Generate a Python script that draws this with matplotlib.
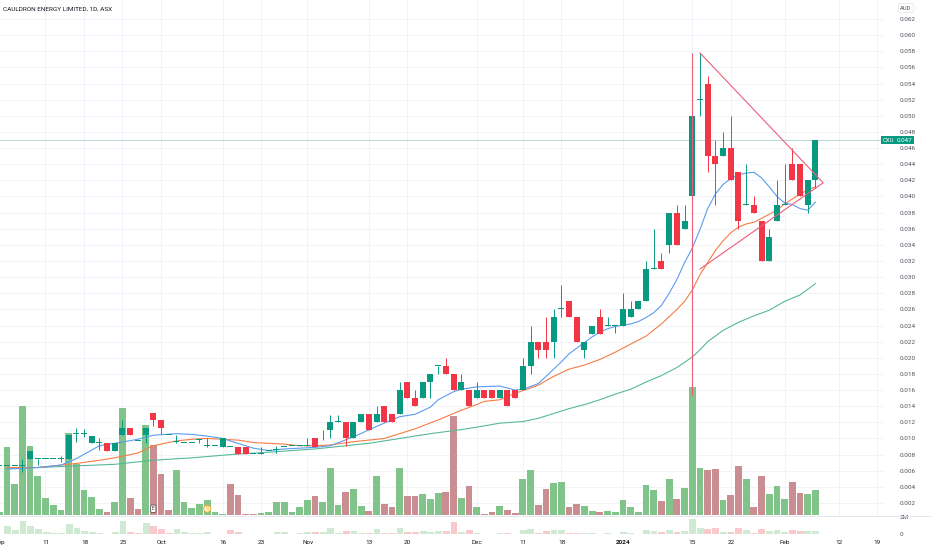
import numpy as np
import matplotlib.pyplot as plt
from matplotlib.transforms import blended_transform_factory

plt.rcParams['font.family'] = ['Roboto', 'DejaVu Sans']

# ---------------------------------------------------------------------------
# daily bars, Sep 2023 -> 7 Feb 2024 (bar index = trading day position)
# ---------------------------------------------------------------------------
opens = [
    0.0066, 0.0066, 0.0066, 0.0066, 0.0075, 0.0075, 0.0075, 0.0075, 0.0075, 0.0075,
    0.0105, 0.0105, 0.0095, 0.0094, 0.0095, 0.0085, 0.0104, 0.0113, 0.0097, 0.0104,
    0.0132, 0.0123, 0.0104, 0.0096, 0.0095, 0.0095, 0.0098, 0.0091, 0.0091, 0.0090,
    0.0090, 0.0090, 0.0090, 0.0081, 0.0081, 0.0085, 0.0086, 0.0090, 0.0091, 0.0091,
    0.0091, 0.0100, 0.0100, 0.0110, 0.0120, 0.0120, 0.0100, 0.0120, 0.0130, 0.0120,
    0.0140, 0.0130, 0.0130, 0.0170, 0.0150, 0.0150, 0.0170, 0.0190, 0.0190, 0.0180,
    0.0160, 0.0160, 0.0150, 0.0160, 0.0160, 0.0150, 0.0160, 0.0160, 0.0160, 0.0190,
    0.0220, 0.0220, 0.0220, 0.0260, 0.0270, 0.0250, 0.0210, 0.0230, 0.0250, 0.0240,
    0.0240, 0.0240, 0.0250, 0.0260, 0.0270, 0.0310, 0.0320, 0.0340, 0.0380, 0.0360,
    0.0400, 0.0520, 0.0540, 0.0450, 0.0450, 0.0460, 0.0430, 0.0390, 0.0390, 0.0370,
    0.0320, 0.0370, 0.0390, 0.0440, 0.0440, 0.0390, 0.0420]
highs = [
    0.0066, 0.0066, 0.0066, 0.0075, 0.0085, 0.0075, 0.0075, 0.0075, 0.0078, 0.0104,
    0.0113, 0.0112, 0.0103, 0.0100, 0.0095, 0.0095, 0.0123, 0.0113, 0.0097, 0.0113,
    0.0132, 0.0123, 0.0104, 0.0104, 0.0095, 0.0095, 0.0101, 0.0100, 0.0091, 0.0100,
    0.0090, 0.0090, 0.0090, 0.0081, 0.0090, 0.0085, 0.0091, 0.0090, 0.0091, 0.0091,
    0.0100, 0.0100, 0.0110, 0.0129, 0.0129, 0.0120, 0.0120, 0.0130, 0.0130, 0.0140,
    0.0140, 0.0130, 0.0170, 0.0170, 0.0160, 0.0170, 0.0180, 0.0190, 0.0200, 0.0180,
    0.0180, 0.0160, 0.0170, 0.0160, 0.0160, 0.0160, 0.0160, 0.0160, 0.0200, 0.0240,
    0.0220, 0.0250, 0.0260, 0.0290, 0.0270, 0.0250, 0.0220, 0.0240, 0.0260, 0.0250,
    0.0240, 0.0280, 0.0270, 0.0270, 0.0320, 0.0360, 0.0330, 0.0380, 0.0390, 0.0390,
    0.0578, 0.0578, 0.0550, 0.0470, 0.0480, 0.0500, 0.0430, 0.0440, 0.0400, 0.0370,
    0.0360, 0.0420, 0.0440, 0.0460, 0.0440, 0.0420, 0.0470]
lows = [
    0.0066, 0.0066, 0.0066, 0.0059, 0.0075, 0.0067, 0.0075, 0.0075, 0.0071, 0.0075,
    0.0096, 0.0102, 0.0095, 0.0086, 0.0085, 0.0085, 0.0104, 0.0104, 0.0097, 0.0094,
    0.0115, 0.0105, 0.0104, 0.0094, 0.0095, 0.0095, 0.0095, 0.0090, 0.0091, 0.0090,
    0.0090, 0.0081, 0.0081, 0.0081, 0.0081, 0.0085, 0.0082, 0.0090, 0.0091, 0.0091,
    0.0091, 0.0090, 0.0098, 0.0100, 0.0120, 0.0091, 0.0100, 0.0120, 0.0110, 0.0120,
    0.0120, 0.0120, 0.0130, 0.0150, 0.0140, 0.0150, 0.0150, 0.0180, 0.0180, 0.0160,
    0.0160, 0.0140, 0.0150, 0.0150, 0.0150, 0.0150, 0.0140, 0.0150, 0.0160, 0.0180,
    0.0200, 0.0200, 0.0200, 0.0250, 0.0250, 0.0220, 0.0200, 0.0230, 0.0230, 0.0240,
    0.0231, 0.0240, 0.0250, 0.0260, 0.0270, 0.0310, 0.0310, 0.0330, 0.0340, 0.0360,
    0.0400, 0.0500, 0.0430, 0.0390, 0.0450, 0.0420, 0.0360, 0.0390, 0.0380, 0.0320,
    0.0320, 0.0370, 0.0390, 0.0420, 0.0400, 0.0380, 0.0410]
closes = [
    0.0066, 0.0066, 0.0066, 0.0066, 0.0085, 0.0075, 0.0075, 0.0075, 0.0075, 0.0104,
    0.0105, 0.0105, 0.0103, 0.0094, 0.0085, 0.0095, 0.0113, 0.0104, 0.0097, 0.0113,
    0.0123, 0.0113, 0.0104, 0.0096, 0.0095, 0.0095, 0.0098, 0.0091, 0.0091, 0.0100,
    0.0090, 0.0081, 0.0081, 0.0081, 0.0081, 0.0085, 0.0086, 0.0090, 0.0091, 0.0091,
    0.0091, 0.0090, 0.0100, 0.0120, 0.0120, 0.0100, 0.0120, 0.0130, 0.0110, 0.0130,
    0.0120, 0.0120, 0.0160, 0.0150, 0.0140, 0.0170, 0.0180, 0.0190, 0.0180, 0.0160,
    0.0170, 0.0140, 0.0160, 0.0150, 0.0150, 0.0160, 0.0140, 0.0150, 0.0190, 0.0220,
    0.0210, 0.0210, 0.0250, 0.0260, 0.0250, 0.0220, 0.0220, 0.0240, 0.0230, 0.0240,
    0.0240, 0.0260, 0.0260, 0.0270, 0.0310, 0.0310, 0.0310, 0.0380, 0.0340, 0.0370,
    0.0500, 0.0520, 0.0450, 0.0440, 0.0460, 0.0420, 0.0370, 0.0390, 0.0380, 0.0320,
    0.0350, 0.0390, 0.0390, 0.0420, 0.0400, 0.0420, 0.0470]

# volume in millions of shares, and whether the volume bar is "up" (green)
volumes = [
    0.05, 0.97, 0.45, 1.56, 0.99, 0.56, 0.25, 0.14, 0.07, 1.18,
    0.73, 0.36, 0.26, 0.09, 0.04, 0.18, 1.53, 0.24, 0.09, 1.29,
    1.00, 0.59, 0.07, 0.64, 0.19, 0.10, 0.16, 0.21, 0.04, 0.02,
    0.44, 0.29, 0.02, 0.02, 0.03, 0.04, 0.18, 0.19, 0.05, 0.11,
    0.22, 0.27, 0.18, 0.68, 0.15, 0.33, 0.37, 0.13, 0.06, 0.56,
    0.16, 0.12, 0.67, 0.27, 0.27, 0.30, 0.23, 0.31, 0.33, 1.42,
    0.24, 0.42, 0.12, 0.02, 0.04, 0.13, 0.07, 0.03, 0.51, 0.64,
    0.14, 0.37, 0.46, 0.48, 0.12, 0.16, 0.13, 0.06, 0.04, 0.06,
    0.05, 0.22, 0.12, 0.05, 0.43, 0.36, 0.20, 0.52, 0.23, 0.39,
    1.84, 0.68, 0.65, 0.66, 0.22, 0.28, 0.70, 0.51, 0.12, 0.56,
    0.30, 0.42, 0.23, 0.48, 0.32, 0.30, 0.36]
vol_up = [
    1, 1, 1, 1, 1, 1, 1, 1, 1, 1,
    1, 1, 1, 1, 0, 1, 1, 0, 0, 1,
    0, 0, 0, 1, 1, 1, 1, 1, 1, 1,
    0, 0, 0, 0, 1, 1, 1, 1, 1, 1,
    1, 0, 1, 1, 1, 0, 1, 1, 0, 1,
    0, 0, 1, 0, 0, 1, 1, 1, 0, 0,
    1, 0, 1, 0, 0, 1, 0, 0, 1, 1,
    0, 0, 1, 1, 0, 0, 1, 1, 0, 1,
    1, 1, 1, 1, 1, 1, 0, 1, 0, 1,
    1, 1, 0, 0, 1, 0, 0, 1, 0, 0,
    1, 1, 1, 0, 0, 1, 1]

# moving averages (bar index, value)
ma_fast_x = [1, 5, 8, 10, 13, 15, 18, 20, 23, 25, 27, 29, 31, 33, 35, 37, 39, 41, 43, 46,
             49, 52, 54, 56, 57, 59, 60, 62, 65, 67, 68, 70, 71, 72, 73, 74, 75, 76, 77, 78,
             79, 80, 82, 83, 84, 85, 86, 87, 88, 89, 90, 91, 92, 93, 94, 95, 96, 97, 98, 99,
             100, 101, 102, 103, 104, 105, 106]
ma_fast_y = [0.0062, 0.0064, 0.0067, 0.0075, 0.0091, 0.0094, 0.0099, 0.0104, 0.0106, 0.0105,
             0.0103, 0.0100, 0.0094, 0.0088, 0.0085, 0.0087, 0.0088, 0.0089, 0.0091, 0.0102,
             0.0115, 0.0127, 0.0130, 0.0139, 0.0148, 0.0158, 0.0161, 0.0164, 0.0165, 0.0160,
             0.0161, 0.0168, 0.0177, 0.0186, 0.0195, 0.0205, 0.0212, 0.0219, 0.0226, 0.0232,
             0.0236, 0.0239, 0.0242, 0.0245, 0.0250, 0.0256, 0.0265, 0.0280, 0.0297, 0.0318,
             0.0336, 0.0359, 0.0385, 0.0403, 0.0415, 0.0422, 0.0427, 0.0429, 0.0430, 0.0423,
             0.0412, 0.0400, 0.0392, 0.0390, 0.0385, 0.0383, 0.0393]
ma_mid_x = [1, 5, 8, 10, 13, 15, 18, 20, 23, 25, 27, 29, 31, 33, 35, 37, 39, 41, 43, 46,
            50, 52, 54, 57, 60, 62, 63, 65, 67, 70, 72, 74, 76, 78, 80, 82, 84, 86, 88, 89,
            90, 91, 92, 93, 94, 95, 96, 97, 98, 99, 100, 101, 102, 103, 104, 105, 106]
ma_mid_y = [0.0064, 0.0064, 0.0067, 0.0069, 0.0073, 0.0076, 0.0082, 0.0091, 0.0097, 0.0099,
            0.0100, 0.0099, 0.0098, 0.0095, 0.0094, 0.0093, 0.0091, 0.0091, 0.0092, 0.0096,
            0.0100, 0.0106, 0.0112, 0.0123, 0.0135, 0.0142, 0.0146, 0.0148, 0.0156, 0.0166,
            0.0177, 0.0186, 0.0191, 0.0198, 0.0207, 0.0217, 0.0227, 0.0242, 0.0260, 0.0270,
            0.0284, 0.0303, 0.0318, 0.0333, 0.0345, 0.0355, 0.0362, 0.0366, 0.0368, 0.0373,
            0.0378, 0.0383, 0.0391, 0.0397, 0.0403, 0.0408, 0.0412]
ma_slow_x = [1, 5, 10, 15, 20, 25, 30, 35, 41, 43, 48, 52, 56, 60, 62, 65, 68, 70, 72, 74,
             76, 78, 80, 82, 84, 86, 88, 90, 91, 92, 94, 96, 98, 100, 102, 104, 106]
ma_slow_y = [0.0063, 0.0064, 0.0066, 0.0068, 0.0073, 0.0076, 0.0080, 0.0083, 0.0087, 0.0089,
             0.0094, 0.0100, 0.0106, 0.0111, 0.0114, 0.0119, 0.0121, 0.0125, 0.0131, 0.0137,
             0.0142, 0.0148, 0.0155, 0.0161, 0.0170, 0.0178, 0.0188, 0.0201, 0.0210, 0.0220,
             0.0234, 0.0244, 0.0252, 0.0259, 0.0270, 0.0278, 0.0292]

# drawings: triangle from the Jan-15 spike + vertical marker
tri_upper = ([91, 106.9], [0.0578, 0.0418])
tri_lower = ([91, 107.0], [0.0310, 0.0417])
vline_bar, vline_lo, vline_hi = 90, 0.0154, 0.0578
last_price = 0.047

# x axis labels (bar index of the first trading day shown)
tick_pos = [0, 6, 11, 16, 21, 29, 34, 40, 48, 53, 62, 68, 73, 81, 90, 95, 102, 109, 114]
tick_lab = ['Sep', '11', '18', '25', 'Oct', '16', '23', 'Nov', '13', '20', 'Dec',
            '11', '18', '2024', '15', '22', 'Feb', '12', '19']
price_ticks = np.round(np.arange(0.002, 0.0621, 0.002), 3)

UP, DN = '#089981', '#f23645'
VUP, VDN = '#80c48a', '#c98d92'
SUP, SDN = '#cfe9d3', '#f8c9cd'
TXT = '#50535e'

x = np.arange(len(opens))
o, h, l, c = map(np.array, (opens, highs, lows, closes))
up = c >= o
vol = np.array(volumes)
vup = np.array(vol_up, dtype=bool)

W, H = 932, 550
fig = plt.figure(figsize=(W / 100, H / 100), dpi=100)
rect = [0, 1 - 516 / H, 884 / W, 516 / H]
axv = fig.add_axes(rect)   # volume overlay + grid (bottom layer)
ax = fig.add_axes(rect)    # price layer
axs = fig.add_axes([0, 14 / H, 884 / W, 20 / H])  # small volume pane

xlim = (0.0909, 114.9)
for a in (ax, axv, axs):
    a.set_xlim(*xlim)
    for s in a.spines.values():
        s.set_visible(False)
ax.patch.set_visible(False)
ax.set_ylim(0.00039, 0.06436)
axv.set_ylim(-0.0143, 7.389)
axs.set_ylim(-0.24, 2.156)

# grid (price levels drawn in the volume layer so they sit behind the bars)
grid_tr = blended_transform_factory(axv.transAxes, ax.transData)
for p in price_ticks:
    axv.plot([0, 1], [p, p], color='#f0f3fa', lw=0.7, zorder=0, transform=grid_tr)
for t in tick_pos:
    axv.axvline(t, color='#f0f3fa', lw=0.7, zorder=0)

# volume
axv.bar(x, vol, width=0.88, color=np.where(vup, VUP, VDN), zorder=2)
axs.bar(x, vol, width=0.88, color=np.where(vup, SUP, SDN))

# candles
ax.vlines(x, l, h, colors=np.where(up, UP, DN), lw=0.7, zorder=3)
body = np.maximum(np.abs(c - o), 0.00012)
ax.bar(x, body, bottom=np.minimum(o, c), width=0.78,
       color=np.where(up, UP, DN), zorder=4)

# moving averages
ax.plot(ma_slow_x, ma_slow_y, color='#57b99a', lw=0.8, zorder=2)
ax.plot(ma_mid_x, ma_mid_y, color='#f57d45', lw=0.8, zorder=2)
ax.plot(ma_fast_x, ma_fast_y, color='#5b9cf0', lw=0.8, zorder=2)

# drawings
ax.plot(*tri_upper, color='#ee5d78', lw=0.8, zorder=5)
ax.plot(*tri_lower, color='#ee5d78', lw=0.8, zorder=5)
ax.vlines(vline_bar, vline_lo, vline_hi, colors='#ee5d78', lw=0.8, zorder=5)
ax.axhline(last_price, color='#a9d3cc', lw=0.6, zorder=1)

# event badges
axv.text(20, 0.09, 'E', fontsize=3.6, ha='center', va='center', color='#333',
         zorder=6, bbox=dict(boxstyle='round,pad=0.25', fc='white', ec='#555', lw=0.6))
axv.text(27, 0.09, 'S', fontsize=3.6, ha='center', va='center', color='#f0a020',
         zorder=6, bbox=dict(boxstyle='circle,pad=0.2', fc='#fff7e0', ec='#f5a623', lw=0.7))

# price axis (right)
ax.yaxis.tick_right()
ax.set_yticks(price_ticks)
ax.set_yticklabels([f'{p:.3f}' for p in price_ticks])
ax.tick_params(axis='y', length=0, pad=11, labelsize=4.6, labelcolor=TXT)
ax.set_xticks([])
axv.set_xticks([])
axv.set_yticks([])

axs.yaxis.tick_right()
axs.set_yticks([0, 2])
axs.set_yticklabels(['0', '2M'])
axs.tick_params(axis='y', length=0, pad=11, labelsize=4.6, labelcolor=TXT)
axs.set_xticks(tick_pos)
axs.set_xticklabels(tick_lab)
axs.tick_params(axis='x', length=0, pad=3, labelsize=4.6, labelcolor='#131722')
for lab in axs.get_xticklabels():
    if lab.get_text() == '2024':
        lab.set_fontweight('bold')

# pane separator
fig.add_artist(plt.Line2D([0, 1], [1 - 516 / H, 1 - 516 / H], color='#e0e3eb', lw=0.6))

# last price tags
tr = blended_transform_factory(ax.transAxes, ax.transData)
ax.text(0.9985, last_price, 'CXU', transform=tr, fontsize=4.3, color='white',
        ha='left', va='center', clip_on=False,
        bbox=dict(boxstyle='square,pad=0.3', fc=UP, ec='none'))
ax.text(1.0145, last_price, '0.047', transform=tr, fontsize=4.5, color='white',
        ha='left', va='center', clip_on=False,
        bbox=dict(boxstyle='square,pad=0.3', fc=UP, ec='none'))

# title and currency
fig.text(3 / W, 1 - 9 / H, 'CAULDRON ENERGY LIMITED, 1D, ASX', fontsize=4.6,
         color='#131722', va='center', ha='left')
fig.text(906 / W, 1 - 8 / H, 'AUD', fontsize=4.2, color=TXT, va='center', ha='center',
         bbox=dict(boxstyle='round,pad=0.35', fc='white', ec='#e0e3eb', lw=0.5))

fig.savefig('out.png', dpi=100, facecolor='white')
